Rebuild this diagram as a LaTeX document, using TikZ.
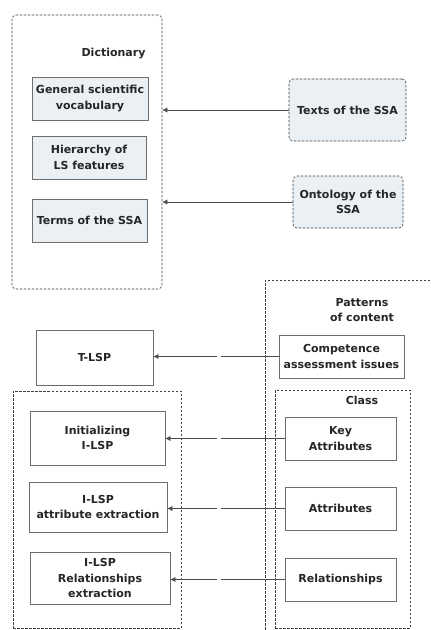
\documentclass[tikz,border=0pt]{standalone}
\usepackage{fontspec}
\setmainfont{DejaVu Sans}
\usetikzlibrary{positioning,arrows.meta}

\definecolor{boxfill}{HTML}{EAF0F4}
\definecolor{boxline}{HTML}{6E6E6E}
\definecolor{dashline}{HTML}{404040}

\tikzset{
  txt/.style={font=\bfseries\fontsize{11}{15.5}\selectfont, align=center, text=black!85},
  box/.style={txt, draw=boxline, thick, fill=white, inner sep=0pt},
  dictbox/.style={box, fill=boxfill},
  srcbox/.style={box, fill=boxfill, draw=dashline, line width=0.6pt, dash pattern=on 2.5pt off 1.5pt, rounded corners=4pt},
  group/.style={draw=dashline, line width=0.6pt, dash pattern=on 2.5pt off 1.5pt, inner sep=0pt},
  link/.style={draw=black!70, -{Latex[length=5pt,width=5pt]}},
  plainlink/.style={draw=black!70}
}

\begin{document}
\begin{tikzpicture}[x=1pt, y=-1pt]
\clip (0,0) rectangle (431,630);
\fill[white] (0,0) rectangle (431,630);

% dictionary part
\node[group, rounded corners=4pt, minimum width=150, minimum height=274] (dict) at (87,152) {};
\node[txt, anchor=east] (dicttitle) at (149,54) {Dictionary};
\node[dictbox, minimum width=116, minimum height=43] (gen) at (90,98.5) {General scientific\\vocabulary};
\node[dictbox, minimum width=114, minimum height=43] (hier) at (89,157.5) {Hierarchy of\\LS features};
\node[dictbox, minimum width=115, minimum height=43] (terms) at (89.5,220.5) {Terms of the SSA};

\node[srcbox, minimum width=117, minimum height=62] (texts) at (347.5,110) {Texts of the SSA};
\node[srcbox, minimum width=110, minimum height=52] (onto) at (348,202) {Ontology of the\\SSA};

\draw[link] (texts.west) -- (texts.west -| dict.east);
\draw[link] (onto.west) -- (onto.west -| dict.east);

% patterns part
\node[group, minimum width=180, minimum height=365] (pat) at (355,462.5) {};
\node[txt] (pattitle) at (362,310) {Patterns\\of content};
\node[box, minimum width=125, minimum height=43] (comp) at (341.5,356.5) {Competence\\assessment issues};
\node[box, minimum width=117, minimum height=55] (tlsp) at (94.5,357.5) {T-LSP};

\node[group, minimum width=168, minimum height=237] (ilsp) at (97,509.5) {};
\node[group, minimum width=135, minimum height=238] (class) at (342.5,509) {};
\node[txt] (classtitle) at (362,400) {Class};

\node[box, minimum width=135, minimum height=54] (init) at (97.5,438) {Initializing\\I-LSP};
\node[box, minimum width=138, minimum height=50] (attext) at (98,507) {I-LSP\\attribute extraction};
\node[box, minimum width=140, minimum height=52] (relext) at (100,578) {I-LSP\\Relationships\\extraction};

\node[box, minimum width=111, minimum height=43] (key) at (340.5,438.5) {Key\\Attributes};
\node[box, minimum width=111, minimum height=43] (attr) at (340.5,508.5) {Attributes};
\node[box, minimum width=111, minimum height=43] (rel) at (340.5,579.5) {Relationships};

% arrows with a small break
\coordinate (gapl) at (217,0);
\coordinate (gapr) at (221,0);
\foreach \src/\dst in {comp/tlsp, key/init, attr/attext, rel/relext} {
  \draw[plainlink] (\src.west) -- (\src.west -| gapr);
  \draw[link] (\src.west -| gapl) -- (\src.west -| \dst.east);
}

\end{tikzpicture}
\end{document}
